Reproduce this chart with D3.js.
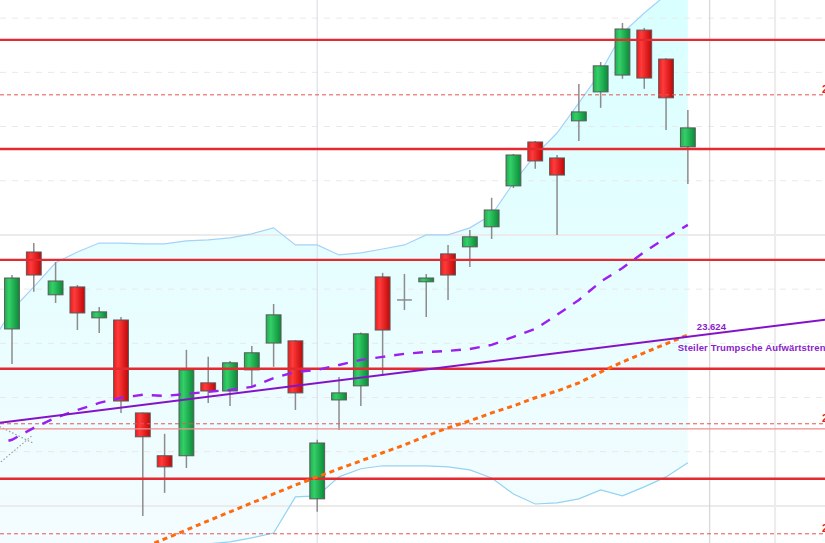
<!DOCTYPE html>
<html lang="de">
<head>
<meta charset="UTF-8">
<title>Tageschart</title>
<script src="https://cdn.jsdelivr.net/npm/d3@7"></script>
<style>
    body { margin: 0; overflow: hidden; background: #fff; }
    svg { display: block; }
    .lbl { font-family: 'Liberation Sans', Arial, sans-serif; font-weight: bold; }
</style>
</head>
<body>
<svg id="chart"></svg>
<script>
const width = 825, height = 543;

// candles, one per session (index 0..31)
const opens  = [23653, 23937, 23779, 23808, 23694, 23686, 23343, 23185, 23185, 23454, 23424, 23502, 23601, 23609, 23026, 23391,
                23443, 23845, 23760, 23827, 23930, 23956, 24030, 24181, 24343, 24284, 24421, 24528, 24590, 24756, 24649, 24325];
const highs  = [23852, 23970, 23900, 23815, 23734, 23697, 23345, 23266, 23576, 23550, 23535, 23590, 23745, 23612, 23244, 23476,
                23640, 23860, 23856, 23856, 23963, 24018, 24137, 24299, 24347, 24295, 24557, 24638, 24782, 24764, 24652, 24461];
const lows   = [23524, 23790, 23749, 23649, 23638, 23343, 22963, 23048, 23140, 23380, 23369, 23439, 23513, 23354, 22978, 23280,
                23369, 23480, 23723, 23697, 23760, 23882, 23985, 24173, 24244, 24000, 24347, 24469, 24576, 24539, 24387, 24188];
const closes = [23841, 23852, 23830, 23712, 23716, 23387, 23255, 23144, 23502, 23424, 23528, 23565, 23705, 23417, 23232, 23417,
                23635, 23649, 23760, 23841, 23852, 23993, 24092, 24295, 24273, 24221, 24454, 24624, 24760, 24579, 24506, 24395];

// bollinger bands, first value belongs to index -1
const bandStart = -1;
const bandUpper  = [23594, 23723, 23808, 23897, 23937, 23970, 23970, 23967, 23967, 23978, 23982, 23989, 24004, 24026, 23963, 23963, 23926,
                    23934, 23948, 23963, 24000, 24000, 24026, 24074, 24192, 24295, 24376, 24487, 24601, 24745, 24819, 24886, 24934];
const bandMiddle = [23221, 23244, 23288, 23325, 23354, 23380, 23399, 23410, 23406, 23413, 23421, 23428, 23439, 23472, 23494, 23502, 23520,
                    23539, 23550, 23561, 23568, 23572, 23579, 23594, 23624, 23653, 23705, 23760, 23827, 23878, 23937, 23989, 24037];
const bandLower  = [22745, 22764, 22768, 22753, 22771, 22790, 22827, 22852, 22845, 22849, 22860, 22867, 22882, 22900, 23033, 23037, 23107,
                    23137, 23148, 23148, 23148, 23144, 23133, 23103, 23044, 23007, 23011, 23026, 23059, 23037, 23070, 23107, 23159];

// slower average (orange), first value belongs to index 5
const maStart = 5;
const maSlow = [22812, 22845, 22878, 22911, 22945, 22978, 23011, 23044, 23077, 23107, 23137, 23166, 23196, 23225,
                23258, 23288, 23314, 23343, 23369, 23399, 23424, 23454, 23494, 23531, 23565, 23598, 23631];

// drawn lines
const trendPoints = [[0, 23312], [31, 23624]];
const trendValue = "23.624";
const trendName = "Steiler Trumpsche Aufwärtstrend";
const oldLines = [[[-1, 23310], [0.96, 23232]], [[-1, 23129], [0.96, 23262]]];

const levelsSolid  = [24720, 24317, 23908, 23506, 23100];
const levelsThin   = [23284];
const levelsDashed = [24517, 23303, 22897];
const dashedLabels = ["24.517", "23.303", "22.897"];

const gridMinor = [24800, 24600, 24400, 24200, 23800, 23600, 23400, 23200];
const gridMajor = [24000, 23000];
const verticalMarks = [14, 32, 35];

const x = d3.scaleLinear().domain([-0.55, 37.29]).range([0, width]);
const y = d3.scaleLinear().domain([22863, 24867]).range([height, 0]);

const svg = d3.select("#chart").attr("width", width).attr("height", height);
const defs = svg.append("defs");

function hGrad(id, stops) {
    const g = defs.append("linearGradient").attr("id", id)
        .attr("x1", 0).attr("x2", 1).attr("y1", 0).attr("y2", 0);
    stops.forEach(s => g.append("stop").attr("offset", s[0]).attr("stop-color", s[1]));
}
hGrad("gUp", [[0, "#1fae4e"], [0.3, "#34cf69"], [1, "#0a8a37"]]);
hGrad("gDown", [[0, "#ea1c1c"], [0.3, "#ff3b3b"], [1, "#c10707"]]);

const bandGrad = defs.append("linearGradient").attr("id", "gBand")
    .attr("gradientUnits", "userSpaceOnUse")
    .attr("x1", 0).attr("x2", 0).attr("y1", 0).attr("y2", height);
bandGrad.append("stop").attr("offset", 0).attr("stop-color", "#d9ffff");
bandGrad.append("stop").attr("offset", 1).attr("stop-color", "#f4fcff");

const bands = bandUpper.map((u, k) => ({ i: bandStart + k, u: u, m: bandMiddle[k], l: bandLower[k] }));

// band fill
svg.append("path")
    .datum(bands)
    .attr("fill", "url(#gBand)")
    .attr("d", d3.area().x(d => x(d.i)).y0(d => y(d.l)).y1(d => y(d.u)));

// grid
svg.selectAll(".gminor").data(gridMinor).join("line")
    .attr("x1", 0).attr("x2", width)
    .attr("y1", d => y(d)).attr("y2", d => y(d))
    .attr("stroke", "#e9e9e9").attr("stroke-dasharray", "6,6");
svg.selectAll(".gmajor").data(gridMajor).join("line")
    .attr("x1", 0).attr("x2", width)
    .attr("y1", d => y(d)).attr("y2", d => y(d))
    .attr("stroke", "#ebebeb").attr("stroke-width", 2);

svg.selectAll(".vmark").data(verticalMarks).join("line")
    .attr("x1", d => x(d)).attr("x2", d => x(d))
    .attr("y1", 0).attr("y2", height)
    .attr("stroke", (d, k) => ["#dedfea", "#d6d6d6", "#ececec"][k])
    .attr("stroke-width", (d, k) => k === 2 ? 2 : 1.2);

// band lines
svg.append("path").datum(bands)
    .attr("fill", "none").attr("stroke", "#a6d2f7").attr("stroke-width", 1.2)
    .attr("d", d3.line().x(d => x(d.i)).y(d => y(d.u)));
svg.append("path").datum(bands)
    .attr("fill", "none").attr("stroke", "#92d3f2").attr("stroke-width", 1.2)
    .attr("d", d3.line().x(d => x(d.i)).y(d => y(d.l)));

// old dotted lines
svg.selectAll(".old").data(oldLines).join("line")
    .attr("x1", d => x(d[0][0])).attr("y1", d => y(d[0][1]))
    .attr("x2", d => x(d[1][0])).attr("y2", d => y(d[1][1]))
    .attr("stroke", "#9a9a9a").attr("stroke-width", 1.2).attr("stroke-dasharray", "1.5,2");

// candles
const candles = opens.map((o, i) => ({ i: i, o: o, h: highs[i], l: lows[i], c: closes[i] }));
const bodyW = (x(1) - x(0)) * 0.68;

svg.selectAll(".wick").data(candles).join("line")
    .attr("x1", d => x(d.i)).attr("x2", d => x(d.i))
    .attr("y1", d => y(d.h)).attr("y2", d => y(d.l))
    .attr("stroke", "#8c8c8c").attr("stroke-width", 1.5);

svg.selectAll(".body").data(candles.filter(d => d.o !== d.c)).join("rect")
    .attr("x", d => x(d.i) - bodyW / 2)
    .attr("y", d => y(Math.max(d.o, d.c)))
    .attr("width", bodyW)
    .attr("height", d => Math.max(1, Math.abs(y(d.o) - y(d.c))))
    .attr("fill", d => d.c > d.o ? "url(#gUp)" : "url(#gDown)")
    .attr("stroke", "#595959").attr("stroke-width", 1);

svg.selectAll(".doji").data(candles.filter(d => d.o === d.c)).join("line")
    .attr("x1", d => x(d.i) - bodyW / 2).attr("x2", d => x(d.i) + bodyW / 2)
    .attr("y1", d => y(d.o)).attr("y2", d => y(d.o))
    .attr("stroke", "#8c8c8c").attr("stroke-width", 1.5);

// price levels
svg.selectAll(".lsolid").data(levelsSolid).join("line")
    .attr("x1", 0).attr("x2", width)
    .attr("y1", d => y(d)).attr("y2", d => y(d))
    .attr("stroke", "#e42a30").attr("stroke-width", 2.4);
svg.selectAll(".lthin").data(levelsThin).join("line")
    .attr("x1", 0).attr("x2", width)
    .attr("y1", d => y(d)).attr("y2", d => y(d))
    .attr("stroke", "#f08e8e").attr("stroke-width", 1.3);
svg.selectAll(".ldash").data(levelsDashed).join("line")
    .attr("x1", 0).attr("x2", width)
    .attr("y1", d => y(d)).attr("y2", d => y(d))
    .attr("stroke", "#e65454").attr("stroke-width", 1).attr("stroke-dasharray", "4,3");
// labels sit at the right edge, only the first digit shows (as in the original)
svg.selectAll(".ldashlbl").data(levelsDashed).join("text")
    .attr("class", "lbl")
    .attr("x", 822).attr("y", d => y(d) - 1.5)
    .attr("font-size", 11).attr("fill", "#e02020")
    .text((d, k) => dashedLabels[k]);

// slow average
svg.append("path").datum(maSlow)
    .attr("fill", "none").attr("stroke", "#ff6a0d").attr("stroke-width", 3)
    .attr("stroke-dasharray", "5,4")
    .attr("d", d3.line().x((d, k) => x(maStart + k)).y(d => y(d)));

// middle band
svg.append("path").datum(bands)
    .attr("fill", "none").attr("stroke", "#9b1ff0").attr("stroke-width", 2.4)
    .attr("stroke-dasharray", "10,9")
    .attr("d", d3.line().x(d => x(d.i)).y(d => y(d.m)));

// trend line, extended over the full width
const [p0, p1] = trendPoints;
const slope = (p1[1] - p0[1]) / (p1[0] - p0[0]);
const [xa, xb] = x.domain();
svg.append("line")
    .attr("x1", x(xa)).attr("y1", y(p0[1] + slope * (xa - p0[0])))
    .attr("x2", x(xb)).attr("y2", y(p0[1] + slope * (xb - p0[0])))
    .attr("stroke", "#8412c8").attr("stroke-width", 2);

svg.append("text").attr("class", "lbl")
    .attr("x", x(p1[0]) + 9).attr("y", y(p1[1]) - 7)
    .attr("font-size", 9.5).attr("fill", "#8a22c9")
    .text(trendValue);
svg.append("text").attr("class", "lbl")
    .attr("x", x(p1[0]) - 10).attr("y", y(p1[1]) + 14)
    .attr("font-size", 9.5).attr("fill", "#8a22c9")
    .attr("letter-spacing", 0.15)
    .text(trendName);
</script>
</body>
</html>
